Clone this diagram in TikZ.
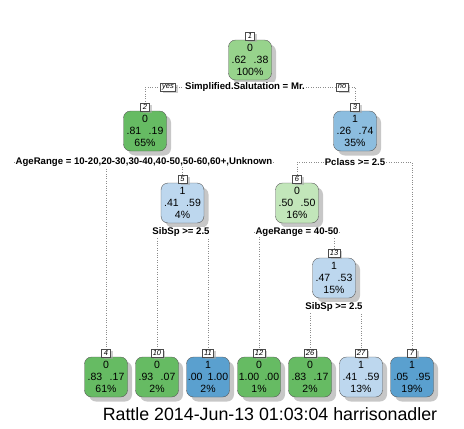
\documentclass[tikz,border=0pt]{standalone}
\usepackage{fontspec}
\setmainfont{Liberation Sans}
\usetikzlibrary{shadows,backgrounds}

\definecolor{gnmid}{HTML}{97D38C}
\definecolor{gndark}{HTML}{66BB63}
\definecolor{gnpale}{HTML}{C2E6BA}
\definecolor{bumid}{HTML}{8CBDDF}
\definecolor{bupale}{HTML}{BDD7EE}
\definecolor{budark}{HTML}{5AA0CF}
\newcommand{\pgap}{\hspace{7.5pt}}

\begin{document}
\begin{tikzpicture}[x=1pt, y=-1pt,
    box/.style={draw=black!65, thin, fill=#1, rounded corners=7pt,
        minimum width=43pt, minimum height=40pt, inner sep=0pt, align=center,
        font=\fontsize{10.5}{12}\selectfont,
        drop shadow={shadow xshift=4.5pt, shadow yshift=-4.5pt, fill=black!40, opacity=0.55}},
    tag/.style={draw=black!70, fill=white, inner xsep=1.6pt, inner ysep=0.6pt, minimum height=8pt,
        minimum width=9pt, font=\fontsize{7.5}{8}\selectfont\itshape,
        drop shadow={shadow xshift=2.5pt, shadow yshift=-1.5pt, fill=black!35, opacity=0.55}},
    split/.style={fill=white, inner sep=1pt, font=\fontsize{9.6}{10}\selectfont\bfseries},
    link/.style={draw=black!45, dotted, thin}]
    \useasboundingbox (0,0) rectangle (464,429);

    \node[box=gnmid] (n1) at (250,60) {0\\.62\pgap.38\\100\%};
    \node[tag] (t1) at (250,36) {1};
    \node[split] (s1) at (245,87) {Simplified.Salutation = Mr.};
    \node[tag] (yes) at (168,87) {yes};
    \node[tag] (no) at (342,87) {no};

    \node[box=gndark] (n2) at (145,131) {0\\.81\pgap.19\\65\%};
    \node[tag] (t2) at (145,107) {2};
    \node[split] (s2) at (144,162) {AgeRange = 10-20,20-30,30-40,40-50,50-60,60+,Unknown};

    \node[box=bumid] (n3) at (355,131) {1\\.26\pgap.74\\35\%};
    \node[tag] (t3) at (355,107) {3};
    \node[split] (s3) at (355,162) {Pclass >= 2.5};

    \node[box=bupale] (n5) at (182.5,203) {1\\.41\pgap.59\\4\%};
    \node[tag] (t5) at (182.5,179) {5};
    \node[split] (s5) at (181,232) {SibSp >= 2.5};

    \node[box=gnpale] (n6) at (297,203) {0\\.50\pgap.50\\16\%};
    \node[tag] (t6) at (297,179) {6};
    \node[split] (s6) at (297,232) {AgeRange = 40-50};

    \node[box=bupale] (n13) at (334,278) {1\\.47\pgap.53\\15\%};
    \node[tag] (t13) at (334,253) {13};
    \node[split] (s13) at (334,307) {SibSp >= 2.5};

    \node[box=gndark] (n4) at (106,377) {0\\.83\pgap.17\\61\%};
    \node[tag] (t4) at (106,353) {4};
    \node[box=gndark] (n10) at (157,377) {0\\.93\pgap.07\\2\%};
    \node[tag] (t10) at (157,353) {10};
    \node[box=budark] (n11) at (208,377) {1\\.00\enspace1.00\\2\%};
    \node[tag] (t11) at (208,353) {11};
    \node[box=gndark] (n12) at (259,377) {0\\1.00\enspace.00\\1\%};
    \node[tag] (t12) at (259,353) {12};
    \node[box=gndark] (n26) at (310,377) {0\\.83\pgap.17\\2\%};
    \node[tag] (t26) at (310,353) {26};
    \node[box=bupale] (n27) at (361,377) {1\\.41\pgap.59\\13\%};
    \node[tag] (t27) at (361,353) {27};
    \node[box=budark] (n7) at (412,377) {1\\.05\pgap.95\\19\%};
    \node[tag] (t7) at (412,353) {7};

    \node[font=\fontsize{17.8}{20}\selectfont] (stamp) at (270,414) {Rattle 2014-Jun-13 01:03:04 harrisonadler};

    \begin{scope}[on background layer]
        \draw[link] (s1) -| (t2);
        \draw[link] (s1) -| (t3);
        \draw[link] (s2) -| (t4);
        \draw[link] (s2) -| (t5);
        \draw[link] (s3) -| (t6);
        \draw[link] (s3) -| (t7);
        \draw[link] (s5) -| (t10);
        \draw[link] (s5) -| (t11);
        \draw[link] (s6) -| (t12);
        \draw[link] (s6) -| (t13);
        \draw[link] (s13) -| (t26);
        \draw[link] (s13) -| (t27);
    \end{scope}
\end{tikzpicture}
\end{document}
